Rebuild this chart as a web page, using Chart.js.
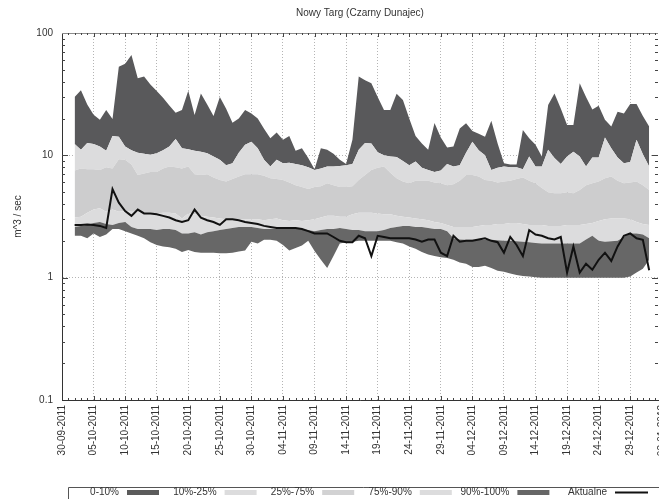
<!DOCTYPE html>
<html>
<head>
<meta charset="utf-8">
<script src="https://cdn.jsdelivr.net/npm/chart.js@4.4.1/dist/chart.umd.min.js"></script>
<style>
  html, body { margin: 0; padding: 0; background: #fff; overflow: hidden; }
  canvas { display: block; }
</style>
</head>
<body>
<canvas id="graph" width="659" height="499"></canvas>
<script>
// days are counted from 30-09-2011, first value belongs to 02-10-2011
const firstDay = 2;
const tickDays = [0, 5, 10, 15, 20, 25, 30, 35, 40, 45, 50, 55, 60, 65, 70, 75, 80, 85, 90, 95];
const yTicks = [0.1, 1, 10, 100];
const legendNames = ['0-10%', '10%-25%', '25%-75%', '75%-90%', '90%-100%', 'Aktualne'];

// band colours, bottom to top
const bandColors = ['#676767', '#dcdcdd', '#cdcdce', '#dcdcdd', '#59595b'];
const legendColors = ['#5b5b5b', '#dcdcdd', '#d2d2d3', '#dcdcdd', '#666666'];

const minFlow = [2.2, 2.2, 2.1, 2.3, 2.15, 2.25, 2.5, 2.5, 2.4, 2.3,
  2.2, 2.1, 1.95, 1.85, 1.8, 1.77, 1.72, 1.62, 1.68, 1.62,
  1.6, 1.6, 1.6, 1.58, 1.58, 1.6, 1.64, 1.67, 1.97, 1.9,
  2.04, 2.04, 2.0, 1.85, 1.67, 1.75, 1.83, 2.0, 1.65, 1.4,
  1.2, 1.5, 1.9, 1.95, 1.97, 2.0, 2.0, 2.0, 2.0, 2.0,
  2.0, 1.95, 1.9, 1.8, 1.72, 1.62, 1.55, 1.5, 1.47, 1.45,
  1.4, 1.33, 1.3, 1.22, 1.22, 1.25, 1.2, 1.14, 1.12, 1.08,
  1.05, 1.03, 1.02, 1.01, 1.0, 1.0, 1.0, 1.0, 1.0, 1.0,
  1.0, 1.0, 1.0, 1.0, 1.0, 1.0, 1.0, 1.0, 1.02, 1.1,
  1.18, 1.4];

const p10Flow = [2.6, 2.65, 2.7, 2.8, 2.85, 2.75, 2.7, 2.8, 2.85, 2.6,
  2.5, 2.5, 2.5, 2.45, 2.5, 2.5, 2.45, 2.3, 2.3, 2.35,
  2.25, 2.35, 2.4, 2.45, 2.5, 2.55, 2.6, 2.6, 2.6, 2.55,
  2.5, 2.5, 2.5, 2.5, 2.5, 2.5, 2.5, 2.45, 2.4, 2.45,
  2.5, 2.5, 2.55, 2.5, 2.45, 2.45, 2.4, 2.4, 2.4, 2.45,
  2.55, 2.6, 2.65, 2.65, 2.6, 2.6, 2.55, 2.5, 2.5, 2.4,
  2.1, 2.05, 2.04, 2.04, 2.04, 2.04, 2.04, 2.02, 2.0, 2.0,
  1.98, 1.97, 1.95, 1.92, 1.9, 1.9, 1.9, 1.9, 1.9, 1.9,
  1.9, 2.05, 2.2, 2.0, 1.97, 1.98, 2.0, 2.15, 2.3, 2.3,
  2.25, 2.1];

const p25Flow = [3.1, 3.15, 3.4, 3.6, 3.7, 3.45, 3.6, 3.45, 3.5, 3.45,
  3.45, 3.4, 3.4, 3.35, 3.4, 3.4, 3.35, 3.05, 3.35, 3.3,
  3.2, 3.15, 3.1, 3.05, 3.0, 2.95, 3.0, 3.0, 3.0, 3.0,
  2.95, 3.0, 3.05, 2.95, 2.9, 2.95, 2.9, 2.95, 3.0, 3.1,
  3.2, 3.2, 3.15, 3.15, 3.3, 3.4, 3.4, 3.4, 3.35, 3.3,
  3.3, 3.2, 3.15, 3.1, 3.05, 3.0, 2.95, 2.85, 2.8, 2.7,
  2.6, 2.6, 2.6, 2.6, 2.65, 2.7, 2.7, 2.75, 2.75, 2.8,
  2.8, 2.75, 2.7, 2.7, 2.7, 2.65, 2.65, 2.65, 2.7, 2.7,
  2.7, 2.75, 2.8, 2.9, 3.0, 3.05, 3.05, 3.05, 3.0, 2.85,
  2.75, 2.7];

const p75Flow = [7.5, 7.8, 7.7, 7.7, 7.6, 8.0, 7.8, 9.3, 9.2, 8.4,
  6.9, 7.1, 7.3, 7.3, 7.8, 8.1, 8.0, 7.8, 8.1, 7.0,
  6.9, 7.0, 6.6, 6.3, 6.1, 6.4, 6.7, 7.0, 7.0, 7.0,
  6.8, 6.5, 6.4, 6.3, 6.0, 5.7, 5.5, 5.3, 5.5, 5.6,
  5.9, 5.7, 5.5, 5.5, 5.6, 6.3, 6.9, 7.6, 7.9, 8.1,
  7.2, 6.5, 6.1, 5.9, 6.2, 6.2, 6.2, 6.0, 5.9, 5.7,
  5.8, 6.2, 6.9, 6.9, 6.7, 6.3, 6.2, 6.0, 6.1, 6.2,
  6.4, 6.6, 6.2, 5.9, 5.4, 5.0, 4.9, 4.9, 5.0, 4.9,
  5.2, 5.7, 5.9, 6.1, 6.5, 6.7, 6.2, 5.9, 6.0, 6.1,
  5.7, 5.2];

const p90Flow = [12.4, 11.1, 12.6, 12.4, 11.8, 10.9, 14.4, 14.2, 11.8, 11.0,
  10.5, 10.3, 10.1, 10.4, 11.0, 11.8, 13.6, 11.4, 11.2, 10.9,
  10.7, 10.4, 9.8, 9.2, 8.3, 8.6, 10.5, 12.2, 12.9, 11.4,
  9.2, 8.1, 9.2, 8.6, 8.7, 8.5, 8.3, 8.0, 7.6, 7.8,
  8.1, 8.1, 8.2, 8.3, 8.5, 11.1, 12.6, 12.5, 10.6, 10.0,
  9.8, 9.7, 9.0, 8.3, 8.9, 7.9, 7.6, 7.3, 7.5, 8.5,
  8.1, 8.3, 10.5, 12.9, 11.0, 10.0, 7.6, 7.9, 8.1, 8.0,
  8.0, 7.7, 9.8, 8.1, 8.1, 11.1, 9.5, 8.5, 9.8, 10.7,
  9.8, 8.1, 9.6, 9.6, 14, 11.4, 9.6, 8.6, 8.8, 13.4,
  10.2, 8.1];

const maxFlow = [30, 34, 26, 21.5, 19.5, 23.5, 19.8, 53, 56, 66,
  42.6, 44, 38, 33.5, 29.5, 25.5, 22.3, 23.5, 33.7, 21.4,
  32, 26, 21, 30, 24, 18.5, 20, 23.5, 22, 20,
  16.5, 13.8, 15.4, 13.4, 14.4, 10.9, 11.4, 9.5, 7.7, 11.4,
  11.1, 10.3, 9.2, 8.5, 13.4, 44, 41, 38.8, 30, 23.5,
  23.5, 31.8, 28.4, 20, 14.4, 12.5, 11.1, 18.4, 14, 11.6,
  11.8, 16.6, 18.3, 15.8, 15, 14.2, 19.2, 12.5, 8.6, 8.4,
  8.4, 16.1, 13.8, 12.2, 9.8, 25.8, 32, 24.2, 17.7, 17.7,
  38.8, 30, 23.7, 25.4, 19.5, 17.2, 22.7, 22, 26.3, 26.3,
  21, 17.2];

const actualFlow = [2.7, 2.7, 2.72, 2.7, 2.65, 2.55, 5.3, 4.1, 3.5, 3.2,
  3.6, 3.35, 3.35, 3.3, 3.2, 3.1, 2.95, 2.85, 2.95, 3.6,
  3.1, 2.95, 2.85, 2.7, 3.0, 3.0, 2.95, 2.85, 2.8, 2.75,
  2.65, 2.6, 2.55, 2.55, 2.55, 2.55, 2.5, 2.4, 2.3, 2.3,
  2.3, 2.15, 2.0, 1.95, 1.95, 2.2, 2.1, 1.5, 2.2, 2.15,
  2.1, 2.1, 2.1, 2.1, 2.05, 1.97, 2.05, 2.05, 1.6, 1.5,
  2.2, 1.97, 2.0, 2.0, 2.05, 2.1, 2.0, 1.95, 1.6, 2.15,
  1.85, 1.5, 2.45, 2.25, 2.2, 2.1, 2.05, 2.15, 1.1, 1.8,
  1.1, 1.3, 1.16, 1.4, 1.6, 1.37, 1.8, 2.2, 2.3, 2.1,
  2.04, 1.15];

function toPoints(values) {
  return values.map((v, i) => ({ x: firstDay + i, y: v }));
}

function pad(n) { return n < 10 ? '0' + n : String(n); }
function dateLabel(day) {
  const d = new Date(2011, 8, 30 + day);
  return pad(d.getDate()) + '-' + pad(d.getMonth() + 1) + '-' + d.getFullYear();
}

const bounds = [minFlow, p10Flow, p25Flow, p75Flow, p90Flow, maxFlow];
const datasets = bounds.map((arr, i) => ({
  label: i === 0 ? 'min' : legendNames[i - 1],
  data: toPoints(arr),
  borderWidth: 0,
  pointRadius: 0,
  tension: 0,
  fill: i === 0 ? false : '-1',
  backgroundColor: i === 0 ? 'transparent' : bandColors[i - 1],
  order: 1
}));
datasets.push({
  label: 'Aktualne',
  data: toPoints(actualFlow),
  borderColor: '#111111',
  borderWidth: 2,
  pointRadius: 0,
  tension: 0,
  fill: false,
  order: 0
});

// gnuplot style frame: top line and small inward ticks on every side
const frameTicks = {
  id: 'frameTicks',
  afterDatasetsDraw(chart) {
    const { ctx, chartArea: a, scales: { x, y } } = chart;
    ctx.save();
    ctx.strokeStyle = '#8c8c8c';
    ctx.lineWidth = 1;
    ctx.beginPath();
    ctx.moveTo(a.left, a.top + 0.5);
    ctx.lineTo(a.right, a.top + 0.5);
    ctx.stroke();

    ctx.strokeStyle = '#444';
    ctx.beginPath();
    for (let d = 1; d <= x.max; d++) {
      const px = Math.round(x.getPixelForValue(d)) + 0.5;
      const len = d % 5 === 0 ? 4 : 2;
      ctx.moveTo(px, a.bottom);
      ctx.lineTo(px, a.bottom - len);
      ctx.moveTo(px, a.top);
      ctx.lineTo(px, a.top + len);
    }
    [0.1, 1, 10].forEach(dec => {
      for (let k = 1; k <= 9; k++) {
        const v = dec * k;
        if (v <= 0.1) continue;
        const py = Math.round(y.getPixelForValue(v)) + 0.5;
        const len = k === 1 ? 6 : 3;
        ctx.moveTo(a.left, py);
        ctx.lineTo(a.left + len, py);
        ctx.moveTo(a.right, py);
        ctx.lineTo(a.right - len, py);
      }
    });
    ctx.stroke();
    ctx.restore();
  }
};

// key at the bottom: text first, then the sample
const bottomKey = {
  id: 'bottomKey',
  afterDraw(chart) {
    const { ctx } = chart;
    const keyTop = 487.5;
    const midY = 492.5;
    ctx.save();
    ctx.strokeStyle = '#555';
    ctx.lineWidth = 1;
    ctx.beginPath();
    ctx.moveTo(68.5, chart.height);
    ctx.lineTo(68.5, keyTop);
    ctx.lineTo(chart.width, keyTop);
    ctx.stroke();

    ctx.font = '10px "Liberation Sans", Arial, sans-serif';
    ctx.fillStyle = '#333';
    ctx.textAlign = 'right';
    ctx.textBaseline = 'middle';
    legendNames.forEach((name, i) => {
      const sx = 127 + i * 97.6;
      ctx.fillStyle = '#333';
      ctx.fillText(name, sx - 8, midY);
      if (i < legendColors.length) {
        ctx.fillStyle = legendColors[i];
        ctx.fillRect(sx, midY - 2.5, 32, 5);
      } else {
        ctx.strokeStyle = '#111';
        ctx.lineWidth = 2;
        ctx.beginPath();
        ctx.moveTo(sx, midY);
        ctx.lineTo(sx + 33, midY);
        ctx.stroke();
      }
    });
    ctx.restore();
  }
};

Chart.defaults.font.family = '"Liberation Sans", Arial, sans-serif';
Chart.defaults.font.size = 10;
Chart.defaults.color = '#333';

const graph = document.getElementById('graph').getContext('2d');
const myChart = new Chart(graph, {
  type: 'line',
  data: { datasets: datasets },
  options: {
    responsive: false,
    animation: false,
    devicePixelRatio: 1,
    layout: { padding: { left: 0, right: 1, top: 0, bottom: 0 } },
    plugins: {
      legend: { display: false },
      tooltip: { enabled: false },
      title: {
        display: true,
        text: 'Nowy Targ (Czarny Dunajec)',
        fullSize: false,
        color: '#333',
        font: { size: 10, weight: 'normal' },
        padding: { top: 7, bottom: 14 }
      }
    },
    scales: {
      x: {
        type: 'linear',
        min: 0,
        max: 94.4,
        afterBuildTicks: s => { s.ticks = tickDays.map(v => ({ value: v })); },
        afterFit: s => { s.height = 99; s.paddingLeft = 0; s.paddingRight = 0; },
        ticks: {
          autoSkip: false,
          minRotation: 90,
          maxRotation: 90,
          padding: 5,
          callback: v => dateLabel(v)
        },
        grid: { color: '#b4b4b4', drawTicks: false },
        border: { color: '#333', width: 1, dash: [1, 2] }
      },
      y: {
        type: 'logarithmic',
        min: 0.1,
        max: 100,
        afterBuildTicks: s => { s.ticks = yTicks.map(v => ({ value: v })); },
        afterFit: s => { s.width = 62; s.paddingTop = 0; s.paddingBottom = 0; },
        ticks: { padding: 9, callback: v => String(v) },
        grid: { color: '#b4b4b4', drawTicks: false },
        border: { color: '#333', width: 1, dash: [1, 2] },
        title: {
          display: true,
          text: 'm^3 / sec',
          padding: { top: 12, bottom: 0 },
          font: { size: 10 }
        }
      }
    }
  },
  plugins: [frameTicks, bottomKey]
});
</script>
</body>
</html>
